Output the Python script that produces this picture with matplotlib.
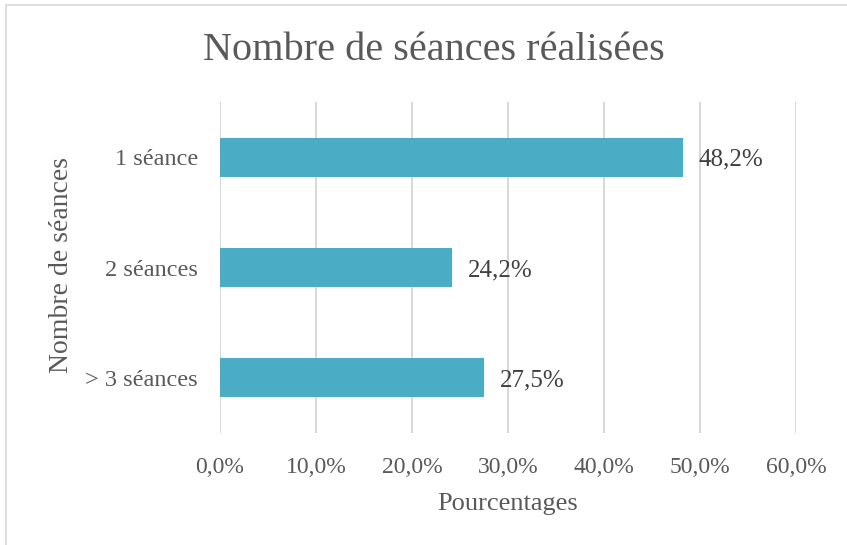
import matplotlib
matplotlib.use("Agg")
import matplotlib.pyplot as plt
from matplotlib.patches import Rectangle

categories = ["1 séance", "2 séances", "> 3 séances"]
values = [48.2, 24.2, 27.5]
value_labels = ["48,2%", "24,2%", "27,5%"]
xticks = [0, 10, 20, 30, 40, 50, 60]
xtick_labels = ["0,0%", "10,0%", "20,0%", "30,0%", "40,0%", "50,0%", "60,0%"]

plt.rcParams['font.family'] = ['Liberation Serif', 'DejaVu Serif']
TXT = "#595959"
BAR = "#4BACC6"
GRID = "#D9D9D9"

fig = plt.figure(figsize=(8.47, 5.45), dpi=100)
W, H = 847, 545
ax = fig.add_axes([220 / W, 1 - 433 / H, (796 - 220) / W, (433 - 102) / H])

ypos = list(range(len(categories)))
ax.barh(ypos, values, height=0.355, color=BAR, zorder=3)
ax.set_ylim(2.5, -0.5)
ax.set_xlim(0, 60)
ax.set_xticks(xticks)
ax.set_xticklabels(xtick_labels, fontsize=17, color=TXT)
ax.set_yticks(ypos)
ax.set_yticklabels(categories, fontsize=17.5, color=TXT, va='center_baseline')
ax.tick_params(axis='both', length=0)
ax.tick_params(axis='x', pad=17)
ax.tick_params(axis='y', pad=16)
ax.grid(axis='x', color=GRID, linewidth=1.5, zorder=0)
for s in ax.spines.values():
    s.set_visible(False)

for y, v, lab in zip(ypos, values, value_labels):
    ax.annotate(lab, xy=(v, y), xytext=(16, 0), textcoords='offset pixels',
                va='center_baseline', ha='left', fontsize=18, color="#404040")

fig.text(434 / W, 1 - 50 / H, "Nombre de séances réalisées", ha='center', va='center',
         fontsize=29, color=TXT)
fig.text(508 / W, 1 - 504 / H, "Pourcentages", ha='center', va='center', fontsize=19, color=TXT)
fig.text(62 / W, 1 - 265 / H, "Nombre de séances", ha='center', va='center', rotation=90,
         fontsize=20, color=TXT)

# chart border (partially visible)
fig.patches.append(Rectangle((6 / W, -0.1), 1.2, 1 - 5 / H + 0.1, transform=fig.transFigure,
                             fill=False, edgecolor="#D9D9D9", linewidth=1.2))

fig.savefig("out.png", dpi=100, facecolor="white")
